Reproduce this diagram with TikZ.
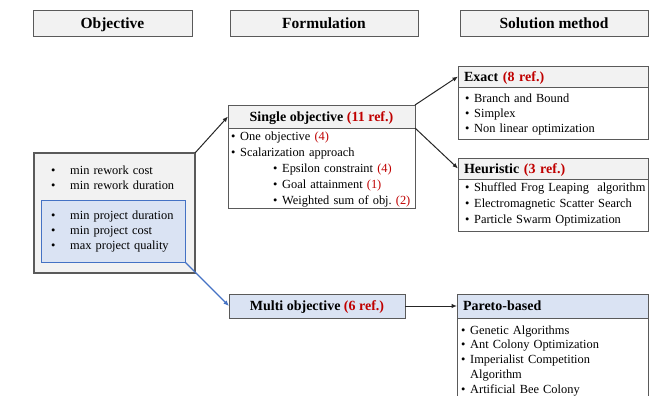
\documentclass[tikz,border=0pt]{standalone}
\usepackage{fontspec}
\setmainfont{Liberation Serif}
\usepackage{xcolor}
\usetikzlibrary{arrows.meta,positioning,shadows}
\definecolor{headgray}{RGB}{242,242,242}
\definecolor{framegray}{RGB}{90,90,90}
\definecolor{paleblue}{RGB}{218,227,243}
\definecolor{linkblue}{RGB}{68,114,196}
\definecolor{refred}{RGB}{192,0,0}
\newcommand{\nref}[1]{\textcolor{refred}{#1}}
\newcommand{\itembul}[1][9pt]{\makebox[#1][l]{\textbullet}}

\tikzset{
  softshadow/.style={drop shadow={shadow xshift=1.2pt,shadow yshift=-1.2pt,fill=black!40,opacity=1}},
  colhead/.style={draw=framegray,fill=headgray,line width=0.9pt,anchor=north west,
    inner sep=0pt,outer sep=0pt,minimum height=26pt,text height=10.5pt,text depth=0pt,
    font=\bfseries\fontsize{15.5}{18}\selectfont,softshadow},
  boxhead/.style={draw=framegray,fill=headgray,line width=0.9pt,anchor=north west,
    inner sep=0pt,outer sep=0pt,text height=9.5pt,text depth=0pt,
    font=\bfseries\fontsize{14}{16}\selectfont,softshadow},
  solhead/.style={boxhead,text width=178pt,inner xsep=6pt,align=left,minimum height=21pt},
  boxbody/.style={draw=framegray,fill=white,line width=0.9pt,anchor=north west,
    inner sep=0pt,outer sep=0pt,softshadow},
  lista/.style={anchor=base west,inner sep=0pt,align=left,text width=185pt,
    font=\fontsize{12.4}{15}\selectfont},
  flecha/.style={-{Latex[length=5.5pt,width=4.5pt]},line width=1pt,black!85}
}

\begin{document}
\begin{tikzpicture}[x=1pt,y=-1pt]
\useasboundingbox (0,0) rectangle (649,396);

% column titles
\node[colhead,minimum width=159pt] (objhead) at (33,10) {Objective};
\node[colhead,minimum width=188pt] (formhead) at (230,10) {Formulation};
\node[colhead,minimum width=188pt] (solhead) at (460,10) {Solution method};

% objective
\node[boxbody,fill=headgray,line width=1.1pt,minimum width=161pt,minimum height=120pt] (objbox) at (34,153) {};
\node[draw=linkblue,fill=paleblue,line width=0.9pt,anchor=north west,inner sep=0pt,outer sep=0pt,
  minimum width=144pt,minimum height=62pt] (projbox) at (41,200) {};
\node[lista,text width=140pt] (rework) at (51,175)
  {\itembul[19pt]min rework cost\\ \itembul[19pt]min rework duration};
\node[lista,text width=130pt] (project) at (51,219.5)
  {\itembul[19pt]min project duration\\ \itembul[19pt]min project cost\\ \itembul[19pt]max project quality};

% formulation
\node[boxhead,minimum width=187pt,minimum height=23pt] (singlehead) at (228,105)
  {Single objective \nref{(11 ref.)}};
\node[boxbody,minimum width=187pt,minimum height=80pt,below=0pt of singlehead] (singlebody) {};
\node[lista,text width=182pt,font=\fontsize{12.4}{16}\selectfont] (singlelist) at (231,141)
  {\itembul One objective \nref{(4)}\\
   \itembul Scalarization approach\\
   \hspace*{42pt}\itembul Epsilon constraint \nref{(4)}\\
   \hspace*{42pt}\itembul Goal attainment \nref{(1)}\\
   \hspace*{42pt}\itembul Weighted sum of obj.\ \nref{(2)}};

\node[boxhead,fill=paleblue,minimum width=176pt,minimum height=24pt] (multi) at (229,294)
  {Multi objective \nref{(6 ref.)}};

% solution method
\node[solhead] (exacthead) at (458,66) {Exact \nref{(8 ref.)}};
\node[boxbody,minimum width=190pt,minimum height=52pt,below=0pt of exacthead] (exactbody) {};
\node[lista] (exactlist) at (465,102.5)
  {\itembul Branch and Bound\\ \itembul Simplex\\ \itembul Non linear optimization};

\node[solhead] (heurhead) at (458,158) {Heuristic \nref{(3 ref.)}};
\node[boxbody,minimum width=190pt,minimum height=52pt,below=0pt of heurhead] (heurbody) {};
\node[lista,font=\fontsize{12.4}{16}\selectfont] (heurlist) at (465,192)
  {\itembul Shuffled Frog Leaping\ \ algorithm\\ \itembul Electromagnetic Scatter Search\\ \itembul Particle Swarm Optimization};

\node[solhead,fill=paleblue,minimum height=24pt,text width=179pt] (paretohead) at (457,294) {Pareto-based};
\node[boxbody,minimum width=191pt,minimum height=95pt,below=0pt of paretohead] (paretobody) {};
\node[lista,font=\fontsize{12.4}{14.9}\selectfont] (paretolist) at (461,334)
  {\itembul Genetic Algorithms\\ \itembul Ant Colony Optimization\\ \itembul Imperialist Competition\\
   \hspace*{9pt}Algorithm\\ \itembul Artificial Bee Colony};

% links
\draw[flecha] (objbox.north east) -- (singlehead.west);
\draw[flecha,linkblue,line width=1.2pt] (projbox.south east) -- (multi.west);
\draw[flecha] (singlehead.north east) -- (exacthead.west);
\draw[flecha] (singlehead.south east) -- (heurhead.west);
\draw[flecha] (multi.east) -- (paretohead.west);
\end{tikzpicture}
\end{document}
